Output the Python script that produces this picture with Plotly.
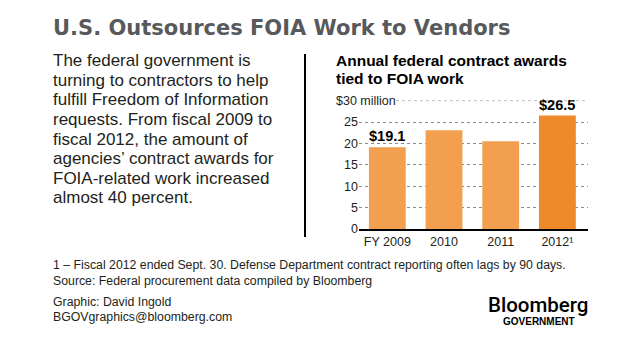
import plotly.graph_objects as go

W, H = 637, 344

# ---- data ----
categories = ["FY 2009", "2010", "2011", "2012¹"]
awards = [19.1, 23.1, 20.5, 26.5]
value_labels = ["$19.1", "", "", "$26.5"]
y_ticks = [0, 5, 10, 15, 20, 25]
y_top = 30
y_top_label = "$30 million"

title = "U.S. Outsources FOIA Work to Vendors"
chart_title = ["Annual federal contract awards", "tied to FOIA work"]
body_lines = [
    "The federal government is",
    "turning to contractors to help",
    "fulfill Freedom of Information",
    "requests. From fiscal 2009 to",
    "fiscal 2012, the amount of",
    "agencies\u2019 contract awards for",
    "FOIA-related work increased",
    "almost 40 percent.",
]
footnote = "1 \u2013 Fiscal 2012 ended Sept. 30. Defense Department contract reporting often lags by 90 days."
source = "Source: Federal procurement data compiled by Bloomberg"
credit = ["Graphic: David Ingold", "BGOVgraphics@bloomberg.com"]

LIGHT = "#F2A050"
DARK = "#EE8A29"
TXT = "#231F20"
SANS = "Liberation Sans, Arial, sans-serif"


def fx(px):
    return px / W


def fy(py):
    return 1 - py / H


colors = [LIGHT] * (len(categories) - 1) + [DARK]

fig = go.Figure(
    go.Bar(
        x=categories,
        y=awards,
        marker=dict(color=colors, line=dict(width=0)),
        width=0.65,
        text=value_labels,
        textposition="outside",
        textfont=dict(family=SANS, size=15.5, color="#000000", weight="bold"),
        cliponaxis=False,
        hoverinfo="skip",
    )
)

fig.update_layout(
    width=W,
    height=H,
    margin=dict(l=0, r=0, t=0, b=0),
    paper_bgcolor="white",
    plot_bgcolor="white",
    showlegend=False,
    xaxis=dict(
        domain=[fx(359), fx(588)],
        range=[-0.5, 3.54],
        showline=True,
        linecolor="#000000",
        linewidth=2,
        ticks="",
        showgrid=False,
        tickfont=dict(family=SANS, size=12.5, color=TXT),
        fixedrange=True,
    ),
    yaxis=dict(
        domain=[fy(233.7), fy(102.7)],
        range=[0, y_top],
        tickvals=y_ticks,
        ticktext=[str(v) for v in y_ticks],
        showgrid=True,
        gridcolor="#8a8a8a",
        griddash="dot",
        gridwidth=1,
        zeroline=False,
        showline=False,
        ticks="",
        tickfont=dict(family=SANS, size=12.5, color=TXT),
        fixedrange=True,
    ),
)

# top gridline, starting after the "$30 million" label
fig.add_shape(
    type="line", xref="paper", yref="y",
    x0=fx(396), x1=fx(588), y0=y_top, y1=y_top,
    line=dict(color="#8a8a8a", width=1, dash="dot"),
)
fig.add_annotation(
    text=y_top_label, xref="paper", yref="y", x=fx(334), y=y_top,
    xanchor="left", yanchor="middle", showarrow=False,
    font=dict(family=SANS, size=12.5, color=TXT),
)

# divider line
fig.add_shape(
    type="line", xref="paper", yref="paper",
    x0=fx(305), x1=fx(305), y0=fy(55), y1=fy(242),
    line=dict(color="#000000", width=2),
)

anns = []
# main title
anns.append(dict(text=title, x=fx(51), y=fy(29), xanchor="left", yanchor="middle",
                 font=dict(family="DejaVu Sans, sans-serif", size=21, color="#58595B", weight="bold")))
# body text
for i, line in enumerate(body_lines):
    anns.append(dict(text=line, x=fx(51), y=fy(62 + 20 * i), xanchor="left", yanchor="middle",
                     font=dict(family=SANS, size=17, color=TXT)))
# chart title
for i, line in enumerate(chart_title):
    anns.append(dict(text=line, x=fx(334), y=fy(62 + 18.5 * i), xanchor="left", yanchor="middle",
                     font=dict(family=SANS, size=15.5, color="#000000", weight="bold")))
# footer
anns.append(dict(text=footnote, x=fx(51), y=fy(271), xanchor="left", yanchor="middle",
                 font=dict(family=SANS, size=12.3, color=TXT)))
anns.append(dict(text=source, x=fx(51), y=fy(287), xanchor="left", yanchor="middle",
                 font=dict(family=SANS, size=12.3, color=TXT)))
for i, line in enumerate(credit):
    anns.append(dict(text=line, x=fx(51), y=fy(308 + 16 * i), xanchor="left", yanchor="middle",
                     font=dict(family=SANS, size=12.3, color=TXT)))
# logo
anns.append(dict(text="Bloomberg", x=fx(590), y=fy(311), xanchor="right", yanchor="middle",
                 font=dict(family="Roboto, sans-serif", size=20.5, color="#000000", weight=500)))
anns.append(dict(text="GOVERNMENT", x=fx(577), y=fy(328.5), xanchor="right", yanchor="middle",
                 font=dict(family=SANS, size=10, color="#000000", weight="bold")))

for a in anns:
    a.update(xref="paper", yref="paper", showarrow=False, align="left")
    fig.add_annotation(**a)

fig.write_html("out.html")
